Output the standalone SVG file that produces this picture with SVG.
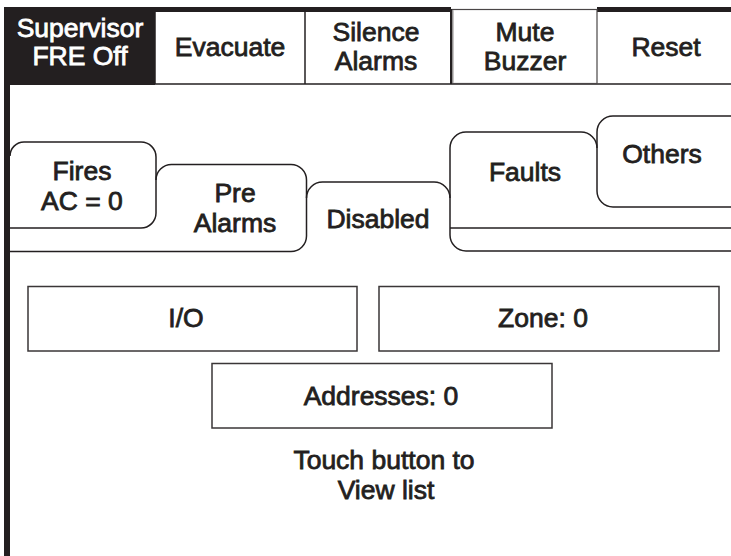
<svg xmlns="http://www.w3.org/2000/svg" width="731" height="556" viewBox="0 0 731 556">
<style>
.t{font-family:"Liberation Sans",Arial,sans-serif;font-size:26.5px;fill:#231f20;stroke:#231f20;stroke-width:0.8;text-anchor:middle}
.w{fill:#ffffff;stroke:#ffffff}
.ln{fill:none;stroke:#231f20;stroke-width:1.5}
.bx{fill:#ffffff;stroke:#3a3637;stroke-width:1.5}
</style>
<rect width="731" height="556" fill="#ffffff"/>
<g id="frame">
<rect x="4" y="7" width="447" height="5" fill="#231f20"/>
<rect x="597" y="7" width="134" height="5" fill="#231f20"/>
<rect x="4" y="7" width="6" height="549" fill="#231f20"/>
<line x1="10" y1="84" x2="731" y2="84" stroke="#5a5758" stroke-width="2"/>
<line x1="155" y1="10" x2="155" y2="84" stroke="#231f20" stroke-width="1.5"/>
<line x1="305" y1="10" x2="305" y2="84" stroke="#231f20" stroke-width="1.5"/>
</g>
<g id="btn-supervisor">
<rect x="4" y="7" width="151" height="78" fill="#231f20"/>
<text class="t w" x="80" y="37">Supervisor</text>
<text class="t w" x="80" y="65">FRE Off</text>
</g>
<g id="btn-evacuate">
<text class="t" x="230" y="56">Evacuate</text>
</g>
<g id="btn-silence">
<text class="t" x="376" y="41">Silence</text>
<text class="t" x="376" y="70">Alarms</text>
</g>
<g id="btn-mute">
<rect x="452" y="9.5" width="145" height="74" fill="#ffffff" stroke="#4a4647" stroke-width="1.2"/>
<line x1="451" y1="9" x2="451" y2="84" stroke="#231f20" stroke-width="2"/>
<line x1="453.5" y1="10" x2="453.5" y2="83" stroke="#c8c6c6" stroke-width="1"/>
<text class="t" x="525" y="41">Mute</text>
<text class="t" x="525" y="70">Buzzer</text>
</g>
<g id="btn-reset">
<text class="t" x="666" y="56">Reset</text>
</g>
<g id="tab-fires">
<path class="ln" d="M10,156 A14,14 0 0 1 24,142 L141,142 A15,15 0 0 1 156,157 L156,213 A15,15 0 0 1 141,228 L10,228"/>
<text class="t" x="82" y="180">Fires</text>
<text class="t" x="82" y="210">AC = 0</text>
</g>
<g id="tab-prealarms">
<path class="ln" d="M156,180 A15.5,15.5 0 0 1 171.5,164.5 L291,164.5 A15.5,15.5 0 0 1 306.5,180 L306.5,236 A15.5,15.5 0 0 1 291,251.5 L10,251.5"/>
<text class="t" x="235" y="202">Pre</text>
<text class="t" x="235" y="232">Alarms</text>
</g>
<g id="tab-disabled">
<path class="ln" d="M306.5,198 A16,16 0 0 1 322.5,182 L434,182 A16,16 0 0 1 450,198"/>
<text class="t" x="378" y="228">Disabled</text>
</g>
<g id="tab-faults">
<path class="ln" d="M731,251 L466,251 A16,16 0 0 1 450,235 L450,148 A16,16 0 0 1 466,132 L581,132 A16,16 0 0 1 597,148"/>
<line class="ln" x1="450" y1="228" x2="731" y2="228"/>
<text class="t" x="525" y="181">Faults</text>
</g>
<g id="tab-others">
<path class="ln" d="M731,116 L613,116 A16,16 0 0 0 597,132 L597,191 A16,16 0 0 0 613,207 L731,207"/>
<text class="t" x="662" y="163">Others</text>
</g>
<g id="box-io">
<rect class="bx" x="28" y="286.5" width="329" height="64.5"/>
<text class="t" x="186" y="327">I/O</text>
</g>
<g id="box-zone">
<rect class="bx" x="379" y="286.5" width="340" height="64.5"/>
<text class="t" x="543" y="327">Zone: 0</text>
</g>
<g id="box-addresses">
<rect class="bx" x="212" y="363.5" width="340" height="64.5"/>
<text class="t" x="381" y="405">Addresses: 0</text>
</g>
<g id="hint">
<text class="t" x="384" y="469">Touch button to</text>
<text class="t" x="386" y="499">View list</text>
</g>
</svg>
